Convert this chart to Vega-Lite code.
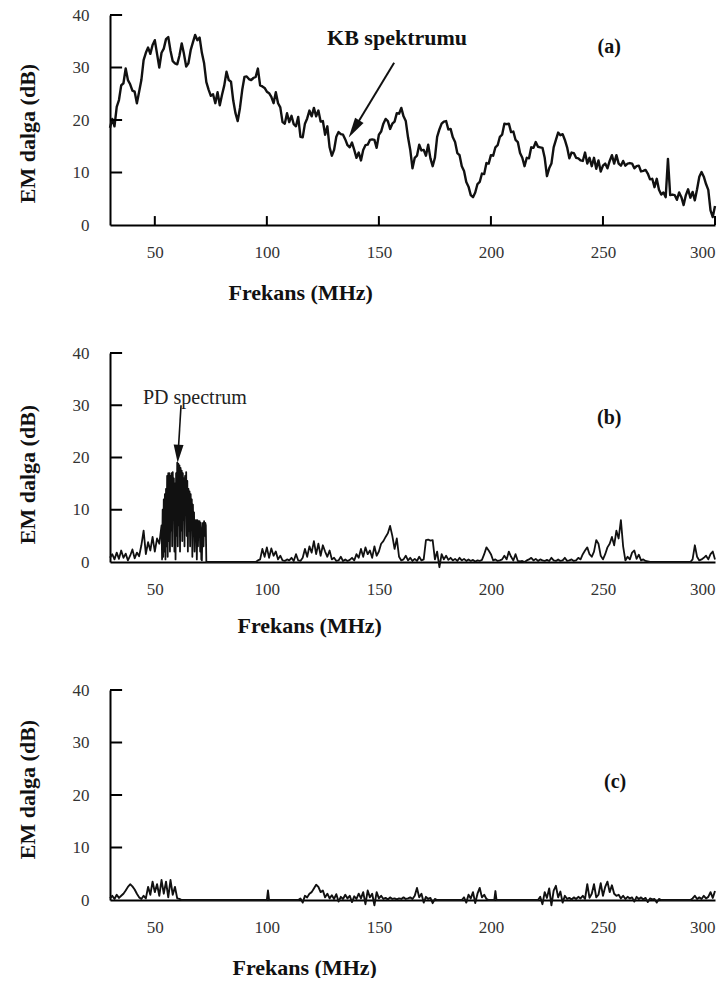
{
  "$schema": "https://vega.github.io/schema/vega-lite/v6.json",
  "background": "white",
  "padding": {"left": 16, "top": 6, "right": 0, "bottom": 0},
  "spacing": 128,
  "bounds": "flush",
  "config": {
    "view": {"stroke": null},
    "font": "Liberation Serif",
    "axis": {
      "grid": false,
      "ticks": false,
      "domainColor": "#000",
      "domainWidth": 2,
      "labelFont": "Liberation Serif",
      "labelFontSize": 17,
      "labelColor": "#333",
      "titleFont": "Liberation Serif",
      "titleFontSize": 22,
      "titleFontWeight": "bold",
      "titleColor": "#111"
    }
  },
  "datasets": {
    "yticks": [{"v": 10}, {"v": 20}, {"v": 30}, {"v": 40}],
    "xticks": [{"f": 50}, {"f": 100}, {"f": 150}, {"f": 200}, {"f": 250}, {"f": 300}],
    "a": [
      {"f":30,"v":18.5},{"f":31,"v":20.2},{"f":32,"v":18.8},{"f":33,"v":22.5},{"f":34,"v":23.8},{"f":35,"v":26.6},{"f":36,"v":27},{"f":37,"v":29.8},{"f":38,"v":27.6},{"f":39,"v":26.8},
      {"f":40,"v":25.6},{"f":41,"v":25.4},{"f":42,"v":23.2},{"f":43,"v":25.4},{"f":44,"v":27.6},{"f":45,"v":31.4},{"f":46,"v":32.8},{"f":47,"v":33.8},{"f":48,"v":32.6},{"f":49,"v":34.3},
      {"f":50,"v":35.2},{"f":51,"v":32.6},{"f":52,"v":30},{"f":53,"v":32.8},{"f":54,"v":33.6},{"f":55,"v":35.4},{"f":56,"v":35.8},{"f":57,"v":33.2},{"f":58,"v":31.2},{"f":59,"v":30.8},
      {"f":60,"v":30.6},{"f":61,"v":32.3},{"f":62,"v":34.6},{"f":63,"v":32.6},{"f":64,"v":30.2},{"f":65,"v":30.8},{"f":66,"v":33.3},{"f":67,"v":34.8},{"f":68,"v":36.2},{"f":69,"v":35.2},
      {"f":70,"v":35.7},{"f":71,"v":32.8},{"f":72,"v":30.8},{"f":73,"v":27.2},{"f":74,"v":25.8},{"f":75,"v":24.6},{"f":76,"v":24.9},{"f":77,"v":23.2},{"f":78,"v":25.3},{"f":79,"v":22.8},
      {"f":80,"v":24.8},{"f":81,"v":26.6},{"f":82,"v":29.2},{"f":83,"v":27.6},{"f":84,"v":27.3},{"f":85,"v":23.7},{"f":86,"v":21.3},{"f":87,"v":19.8},{"f":88,"v":22.3},{"f":89,"v":25.7},
      {"f":90,"v":28.2},{"f":91,"v":28.3},{"f":92,"v":27.8},{"f":93,"v":27.6},{"f":94,"v":28},{"f":95,"v":28.2},{"f":96,"v":29.8},{"f":97,"v":26.6},{"f":98,"v":26.4},{"f":99,"v":26.1},
      {"f":100,"v":25.4},{"f":101,"v":25.1},{"f":102,"v":24.4},{"f":103,"v":23.2},{"f":104,"v":25.3},{"f":105,"v":23.2},{"f":106,"v":22.4},{"f":107,"v":19.6},{"f":108,"v":19.3},{"f":109,"v":21.3},
      {"f":110,"v":19.6},{"f":111,"v":20.8},{"f":112,"v":19.2},{"f":113,"v":18.8},{"f":114,"v":20.6},{"f":115,"v":16.8},{"f":116,"v":16.7},{"f":117,"v":19.3},{"f":118,"v":20.3},{"f":119,"v":21.8},
      {"f":120,"v":20.7},{"f":121,"v":22.3},{"f":122,"v":20.7},{"f":123,"v":21.8},{"f":124,"v":19.7},{"f":125,"v":19.8},{"f":126,"v":17.2},{"f":127,"v":18.8},{"f":128,"v":14.8},{"f":129,"v":13.2},
      {"f":130,"v":14.3},{"f":131,"v":16.8},{"f":132,"v":17.7},{"f":133,"v":17.3},{"f":134,"v":17.2},{"f":135,"v":16.3},{"f":136,"v":15.2},{"f":137,"v":14.8},{"f":138,"v":15.7},{"f":139,"v":14.3},
      {"f":140,"v":12.8},{"f":141,"v":13.8},{"f":142,"v":12.3},{"f":143,"v":14.3},{"f":144,"v":15.2},{"f":145,"v":15.3},{"f":146,"v":16.2},{"f":147,"v":16.3},{"f":148,"v":16.2},{"f":149,"v":14.7},
      {"f":150,"v":17.2},{"f":151,"v":17.8},{"f":152,"v":19.3},{"f":153,"v":20.2},{"f":154,"v":19.8},{"f":155,"v":18.3},{"f":156,"v":19.3},{"f":157,"v":19.7},{"f":158,"v":21.3},{"f":159,"v":21.2},
      {"f":160,"v":22.3},{"f":161,"v":20.7},{"f":162,"v":19.8},{"f":163,"v":16.7},{"f":164,"v":14.3},{"f":165,"v":10.8},{"f":166,"v":12.8},{"f":167,"v":13.2},{"f":168,"v":15.3},{"f":169,"v":14.2},
      {"f":170,"v":14.3},{"f":171,"v":13.2},{"f":172,"v":15.3},{"f":173,"v":12.7},{"f":174,"v":11.2},{"f":175,"v":12.8},{"f":176,"v":16.8},{"f":177,"v":18.2},{"f":178,"v":19.3},{"f":179,"v":19.7},
      {"f":180,"v":19.8},{"f":181,"v":18.2},{"f":182,"v":18.3},{"f":183,"v":16.7},{"f":184,"v":15.8},{"f":185,"v":13.7},{"f":186,"v":13.3},{"f":187,"v":11.2},{"f":188,"v":10.3},{"f":189,"v":8.2},
      {"f":190,"v":7.3},{"f":191,"v":5.7},{"f":192,"v":5.3},{"f":193,"v":6.2},{"f":194,"v":7.8},{"f":195,"v":8.2},{"f":196,"v":9.8},{"f":197,"v":9.7},{"f":198,"v":11.8},{"f":199,"v":11.7},
      {"f":200,"v":13.3},{"f":201,"v":13.2},{"f":202,"v":14.8},{"f":203,"v":15.2},{"f":204,"v":16.8},{"f":205,"v":17.2},{"f":206,"v":19.3},{"f":207,"v":19.2},{"f":208,"v":19.3},{"f":209,"v":17.7},
      {"f":210,"v":17.8},{"f":211,"v":16.2},{"f":212,"v":15.8},{"f":213,"v":13.7},{"f":214,"v":12.8},{"f":215,"v":11.2},{"f":216,"v":12.8},{"f":217,"v":12.7},{"f":218,"v":14.8},{"f":219,"v":14.7},
      {"f":220,"v":15.8},{"f":221,"v":14.9},{"f":222,"v":14.8},{"f":223,"v":14.7},{"f":224,"v":12.8},{"f":225,"v":9.3},{"f":226,"v":10.8},{"f":227,"v":11.7},{"f":228,"v":14.8},{"f":229,"v":16.2},
      {"f":230,"v":17.6},{"f":231,"v":17.1},{"f":232,"v":17.3},{"f":233,"v":16.2},{"f":234,"v":14.8},{"f":235,"v":12.7},{"f":236,"v":13.8},{"f":237,"v":13.7},{"f":238,"v":12.8},{"f":239,"v":12.7},
      {"f":240,"v":12.3},{"f":241,"v":12.2},{"f":242,"v":13.8},{"f":243,"v":11.7},{"f":244,"v":12.8},{"f":245,"v":11.2},{"f":246,"v":12.8},{"f":247,"v":10.7},{"f":248,"v":12.3},{"f":249,"v":10.2},
      {"f":250,"v":11.3},{"f":251,"v":11.7},{"f":252,"v":10.8},{"f":253,"v":12.2},{"f":254,"v":13.3},{"f":255,"v":11.7},{"f":256,"v":13.3},{"f":257,"v":11.7},{"f":258,"v":11.3},{"f":259,"v":12.2},
      {"f":260,"v":11.3},{"f":261,"v":11.7},{"f":262,"v":11.8},{"f":263,"v":11.7},{"f":264,"v":10.8},{"f":265,"v":11.2},{"f":266,"v":11.3},{"f":267,"v":10.2},{"f":268,"v":10.3},{"f":269,"v":10.5},
      {"f":270,"v":9.8},{"f":271,"v":8.7},{"f":272,"v":8.8},{"f":273,"v":7.2},{"f":274,"v":8.8},{"f":275,"v":6.7},{"f":276,"v":5.8},{"f":277,"v":6.2},{"f":278,"v":5.3},{"f":279,"v":12.6},
      {"f":280,"v":5.7},{"f":281,"v":5.8},{"f":282,"v":5.7},{"f":283,"v":4.8},{"f":284,"v":6.2},{"f":285,"v":5.3},{"f":286,"v":3.8},{"f":287,"v":5.7},{"f":288,"v":6.8},{"f":289,"v":5.2},
      {"f":290,"v":6.3},{"f":291,"v":4.7},{"f":292,"v":6.8},{"f":293,"v":9.2},{"f":294,"v":10.1},{"f":295,"v":9.2},{"f":296,"v":7.8},{"f":297,"v":6.7},{"f":298,"v":2.8},{"f":299,"v":1.5},
      {"f":300,"v":3.6}
    ],
    "b": [
      {"f":30,"v":0.8},{"f":31,"v":1.5},{"f":32,"v":0.5},{"f":33,"v":1.8},{"f":34,"v":0.6},{"f":35,"v":2.2},{"f":36,"v":0.8},{"f":37,"v":1.6},{"f":38,"v":0.3},{"f":39,"v":1.2},
      {"f":40,"v":2.4},{"f":41,"v":0.7},{"f":42,"v":1.8},{"f":43,"v":1.1},{"f":44,"v":3.2},{"f":45,"v":6},{"f":46,"v":1.5},{"f":47,"v":3.8},{"f":48,"v":2.2},{"f":49,"v":4.8},
      {"f":50,"v":2},{"f":51,"v":4.5},{"f":52,"v":3.5},{"f":53,"v":7},
      {"f":53.25,"v":0.5},{"f":53.5,"v":10},{"f":53.75,"v":1},{"f":54,"v":12},{"f":54.25,"v":2},{"f":54.5,"v":13},{"f":54.75,"v":0.5},{"f":55,"v":14},{"f":55.25,"v":3},{"f":55.5,"v":16.5},
      {"f":55.75,"v":1},{"f":56,"v":17},{"f":56.25,"v":4},{"f":56.5,"v":17},{"f":56.75,"v":2},{"f":57,"v":16.5},{"f":57.25,"v":6},{"f":57.5,"v":17},{"f":57.75,"v":3},{"f":58,"v":17.2},
      {"f":58.25,"v":8},{"f":58.5,"v":16},{"f":58.75,"v":2},{"f":59,"v":15},{"f":59.25,"v":0.5},{"f":59.5,"v":17},{"f":59.75,"v":5},{"f":60,"v":19},{"f":60.25,"v":3},{"f":60.5,"v":18.8},
      {"f":60.75,"v":7},{"f":61,"v":18.5},{"f":61.25,"v":2},{"f":61.5,"v":18},{"f":61.75,"v":6},{"f":62,"v":17.5},{"f":62.25,"v":4},{"f":62.5,"v":17},{"f":62.75,"v":8},{"f":63,"v":16},
      {"f":63.25,"v":3},{"f":63.5,"v":16.5},{"f":63.75,"v":9},{"f":64,"v":17.2},{"f":64.25,"v":5},{"f":64.5,"v":15.5},{"f":64.75,"v":2},{"f":65,"v":14},{"f":65.25,"v":6},{"f":65.5,"v":13.5},
      {"f":65.75,"v":3},{"f":66,"v":13},{"f":66.25,"v":7},{"f":66.5,"v":12},{"f":66.75,"v":1},{"f":67,"v":11},{"f":67.25,"v":5},{"f":67.5,"v":9.5},{"f":67.75,"v":2},{"f":68,"v":8},
      {"f":68.25,"v":4},{"f":68.5,"v":8},{"f":68.75,"v":0.5},{"f":69,"v":8},{"f":69.25,"v":3},{"f":69.5,"v":7.8},{"f":69.75,"v":5},{"f":70,"v":7.8},{"f":70.25,"v":2},{"f":70.5,"v":7.5},
      {"f":70.75,"v":0.5},{"f":71,"v":0.3},{"f":71.25,"v":6},{"f":71.5,"v":7.5},{"f":71.75,"v":3},{"f":72,"v":7.8},{"f":72.25,"v":5},{"f":72.5,"v":7.5},{"f":72.75,"v":7},{"f":73,"v":0},
      {"f":95,"v":0},
      {"f":96,"v":0.3},{"f":97,"v":0.5},{"f":98,"v":2.5},{"f":99,"v":1},{"f":100,"v":2.8},{"f":101,"v":0.8},{"f":102,"v":2.6},{"f":103,"v":1.2},{"f":104,"v":2},{"f":105,"v":0.5},
      {"f":106,"v":1.2},{"f":107,"v":0.3},{"f":108,"v":0.2},{"f":109,"v":0.5},{"f":110,"v":0.3},{"f":111,"v":0.8},{"f":112,"v":0.2},{"f":113,"v":1.5},{"f":114,"v":0.3},{"f":115,"v":0.2},
      {"f":116,"v":0.8},{"f":117,"v":2.5},{"f":118,"v":1},{"f":119,"v":3},{"f":120,"v":1.8},{"f":121,"v":4},{"f":122,"v":1.5},{"f":123,"v":3.5},{"f":124,"v":1.2},{"f":125,"v":3.2},
      {"f":126,"v":2},{"f":127,"v":1},{"f":128,"v":2.2},{"f":129,"v":0.5},{"f":130,"v":0.8},{"f":131,"v":0.2},{"f":132,"v":0.3},{"f":133,"v":1},{"f":134,"v":0.2},{"f":135,"v":0.5},
      {"f":136,"v":0.2},{"f":137,"v":0.4},{"f":138,"v":0.8},{"f":139,"v":0.3},{"f":140,"v":1.5},{"f":141,"v":0.8},{"f":142,"v":2.5},{"f":143,"v":1},{"f":144,"v":2.8},{"f":145,"v":1.5},
      {"f":146,"v":2.2},{"f":147,"v":0.8},{"f":148,"v":3},{"f":149,"v":1.2},{"f":150,"v":2},{"f":151,"v":3.5},{"f":152,"v":4},{"f":153,"v":4.8},{"f":154,"v":5.5},{"f":155,"v":6.9},
      {"f":156,"v":5},{"f":157,"v":2.5},{"f":158,"v":4.5},{"f":159,"v":1},{"f":160,"v":0.3},{"f":161,"v":0.5},{"f":162,"v":1.2},{"f":163,"v":0.3},{"f":164,"v":0.8},{"f":165,"v":0.2},
      {"f":166,"v":0.6},{"f":167,"v":0.2},{"f":168,"v":1},{"f":169,"v":0.3},{"f":170,"v":0.5},{"f":171,"v":4.2},{"f":172,"v":4.3},{"f":173,"v":4.1},{"f":174,"v":4.2},{"f":175,"v":0.5},
      {"f":176,"v":2},{"f":177,"v":-1},{"f":178,"v":1.5},{"f":179,"v":0.5},{"f":180,"v":1.2},{"f":181,"v":0.4},{"f":182,"v":0.8},{"f":183,"v":0.3},{"f":184,"v":0.6},{"f":185,"v":0.2},
      {"f":186,"v":0.8},{"f":187,"v":0.3},{"f":188,"v":0.6},{"f":189,"v":0.2},{"f":190,"v":0.5},{"f":191,"v":0.2},{"f":192,"v":0.4},{"f":193,"v":0.1},{"f":194,"v":0.3},{"f":195,"v":0.2},
      {"f":196,"v":0.4},{"f":197,"v":1.5},{"f":198,"v":2.8},{"f":199,"v":2.2},{"f":200,"v":1.5},{"f":201,"v":0.3},{"f":202,"v":0.5},{"f":203,"v":0.2},{"f":204,"v":0.3},{"f":205,"v":0.5},
      {"f":206,"v":1.2},{"f":207,"v":0.5},{"f":208,"v":2},{"f":209,"v":1},{"f":210,"v":0.3},{"f":211,"v":1.5},{"f":212,"v":0.2},{"f":213,"v":0.1},{"f":214,"v":0.2},{"f":215,"v":0},
      {"f":216,"v":0.3},{"f":217,"v":0.5},{"f":218,"v":0.8},{"f":219,"v":0.3},{"f":220,"v":0.6},{"f":221,"v":0.2},{"f":222,"v":0.5},{"f":223,"v":0.3},{"f":224,"v":0.2},{"f":225,"v":0.4},
      {"f":226,"v":0.2},{"f":227,"v":0.8},{"f":228,"v":0.3},{"f":229,"v":0.2},{"f":230,"v":0.5},{"f":231,"v":0.2},{"f":232,"v":0.3},{"f":233,"v":0.8},{"f":234,"v":0.2},{"f":235,"v":0.3},
      {"f":236,"v":0.5},{"f":237,"v":0.2},{"f":238,"v":0.3},{"f":239,"v":0.8},{"f":240,"v":0.5},{"f":241,"v":1.5},{"f":242,"v":2.2},{"f":243,"v":2.8},{"f":244,"v":1.5},{"f":245,"v":1},
      {"f":246,"v":2},{"f":247,"v":4.2},{"f":248,"v":3.5},{"f":249,"v":1.2},{"f":250,"v":0.5},{"f":251,"v":1.5},{"f":252,"v":2.8},{"f":253,"v":3.5},{"f":254,"v":4.8},{"f":255,"v":3.2},
      {"f":256,"v":6},{"f":257,"v":4.5},{"f":258,"v":8},{"f":259,"v":3},{"f":260,"v":0.3},{"f":261,"v":1},{"f":262,"v":0.5},{"f":263,"v":1.8},{"f":264,"v":2.2},{"f":265,"v":0.6},
      {"f":266,"v":1.4},{"f":267,"v":0.3},{"f":268,"v":0.5},{"f":269,"v":0.2},{"f":270,"v":0.1},{"f":271,"v":0},{"f":289,"v":0},{"f":290,"v":0.5},{"f":291,"v":3.2},{"f":292,"v":1},
      {"f":293,"v":0.3},{"f":294,"v":0.5},{"f":295,"v":0.8},{"f":296,"v":1.2},{"f":297,"v":0.5},{"f":298,"v":1.5},{"f":299,"v":2},{"f":300,"v":0.5}
    ],
    "c": [
      {"f":30,"v":0.3},{"f":31,"v":0.8},{"f":32,"v":0.2},{"f":33,"v":1},{"f":34,"v":0.4},{"f":35,"v":0.8},{"f":36,"v":1.2},{"f":37,"v":1.8},{"f":38,"v":2.5},{"f":39,"v":3},
      {"f":40,"v":2.6},{"f":41,"v":2},{"f":42,"v":1.2},{"f":43,"v":0.5},{"f":44,"v":0.2},{"f":45,"v":0.8},{"f":46,"v":0.3},{"f":47,"v":2.5},{"f":48,"v":1},{"f":49,"v":3.5},
      {"f":50,"v":1.5},{"f":51,"v":3},{"f":52,"v":0.8},{"f":53,"v":3.8},{"f":54,"v":1.2},{"f":55,"v":3.5},{"f":56,"v":0.5},{"f":57,"v":3.8},{"f":58,"v":1},{"f":59,"v":2.5},
      {"f":60,"v":0.3},{"f":61,"v":0.2},{"f":62,"v":0},{"f":100,"v":0},{"f":100.5,"v":1.8},{"f":101,"v":0},{"f":114,"v":0},
      {"f":115,"v":0.3},{"f":116,"v":-0.5},{"f":117,"v":0.8},{"f":118,"v":0.5},{"f":119,"v":1.2},{"f":120,"v":1.5},{"f":121,"v":2.2},{"f":122,"v":2.9},{"f":123,"v":2.5},{"f":124,"v":1.5},
      {"f":125,"v":1.8},{"f":126,"v":0.5},{"f":127,"v":1.2},{"f":128,"v":0.3},{"f":129,"v":0.9},{"f":130,"v":0.2},{"f":131,"v":1.1},{"f":132,"v":-0.3},{"f":133,"v":0.6},{"f":134,"v":0.2},
      {"f":135,"v":1},{"f":136,"v":0.3},{"f":137,"v":0.8},{"f":138,"v":-0.4},{"f":139,"v":0.7},{"f":140,"v":0.2},{"f":141,"v":1.2},{"f":142,"v":0.3},{"f":143,"v":1.5},{"f":144,"v":-0.8},
      {"f":145,"v":1.8},{"f":146,"v":0.5},{"f":147,"v":1.2},{"f":148,"v":-1},{"f":149,"v":1.5},{"f":150,"v":0.3},{"f":151,"v":0.8},{"f":152,"v":0.2},{"f":153,"v":0.4},{"f":154,"v":0.1},
      {"f":155,"v":0.5},{"f":156,"v":0.2},{"f":157,"v":0.3},{"f":158,"v":0.1},{"f":159,"v":0.3},{"f":160,"v":0.2},{"f":161,"v":0.5},{"f":162,"v":0.2},{"f":163,"v":0.3},{"f":164,"v":0.5},
      {"f":165,"v":0.2},{"f":166,"v":0.8},{"f":167,"v":2.3},{"f":168,"v":0.5},{"f":169,"v":1.2},{"f":170,"v":-0.5},{"f":171,"v":0.6},{"f":172,"v":0.2},{"f":173,"v":0.4},{"f":174,"v":-0.6},
      {"f":175,"v":0.2},{"f":176,"v":0},{"f":187,"v":0},{"f":188,"v":0.5},{"f":189,"v":-0.5},{"f":190,"v":1},{"f":191,"v":0.3},{"f":192,"v":1.5},{"f":193,"v":-0.6},{"f":194,"v":1.2},
      {"f":195,"v":2.3},{"f":196,"v":0.5},{"f":197,"v":1},{"f":198,"v":0.2},{"f":199,"v":0},{"f":201.5,"v":0},{"f":202,"v":1.7},{"f":202.5,"v":0},{"f":221,"v":0},
      {"f":222,"v":0.6},{"f":223,"v":-0.8},{"f":224,"v":1.5},{"f":225,"v":0.4},{"f":226,"v":2.2},{"f":227,"v":-1},{"f":228,"v":1.8},{"f":229,"v":2.7},{"f":230,"v":0.5},{"f":231,"v":1.6},
      {"f":232,"v":-0.5},{"f":233,"v":0.8},{"f":234,"v":0.2},{"f":235,"v":0.4},{"f":236,"v":0.1},{"f":237,"v":0.5},{"f":238,"v":0.2},{"f":239,"v":0.6},{"f":240,"v":0.3},{"f":241,"v":0.8},
      {"f":242,"v":0.2},{"f":243,"v":3},{"f":244,"v":0.4},{"f":245,"v":1.2},{"f":246,"v":3},{"f":247,"v":0.5},{"f":248,"v":1},{"f":249,"v":3.2},{"f":250,"v":0.8},{"f":251,"v":2.5},
      {"f":252,"v":3.5},{"f":253,"v":1.5},{"f":254,"v":2.8},{"f":255,"v":1.2},{"f":256,"v":0.8},{"f":257,"v":1},{"f":258,"v":0.3},{"f":259,"v":0.8},{"f":260,"v":0.2},{"f":261,"v":0.6},
      {"f":262,"v":0.3},{"f":263,"v":0.5},{"f":264,"v":-0.3},{"f":265,"v":0.6},{"f":266,"v":0.2},{"f":267,"v":0.5},{"f":268,"v":0.1},{"f":269,"v":0.4},{"f":270,"v":-0.4},{"f":271,"v":0.3},
      {"f":272,"v":0.1},{"f":273,"v":0.2},{"f":274,"v":-0.5},{"f":275,"v":0.2},{"f":276,"v":0},{"f":289,"v":0},{"f":290,"v":0.3},{"f":291,"v":0.8},{"f":292,"v":0.2},{"f":293,"v":0.5},
      {"f":294,"v":0.2},{"f":295,"v":0.8},{"f":296,"v":0.3},{"f":297,"v":0.6},{"f":298,"v":1.5},{"f":299,"v":0.4},{"f":300,"v":1.7}
    ]
  },
  "vconcat": [
    {
      "width": 605,
      "height": 210,
      "layer": [
        {
          "data": {"name": "a"},
          "mark": {"type": "line", "color": "#111", "strokeWidth": 2.4, "strokeJoin": "round"},
          "encoding": {
            "x": {"field": "f", "type": "quantitative",
              "scale": {"domain": [30, 300], "nice": false, "zero": false},
              "axis": {"values": [50, 100, 150, 200, 250, 300], "labelPadding": 19, "labelFlush": true,
                "title": "Frekans (MHz)", "titleX": 118, "titleY": 74, "titleAlign": "left", "titleBaseline": "alphabetic"}},
            "y": {"field": "v", "type": "quantitative",
              "scale": {"domain": [0, 40], "nice": false},
              "axis": {"values": [0, 10, 20, 30, 40], "labelPadding": 21,
                "title": "EM dalga (dB)", "titleX": -83, "titleY": 118, "titleAngle": 270, "titleAlign": "center", "titleBaseline": "middle"}}
          }
        },
        {
          "data": {"name": "yticks"},
          "mark": {"type": "rule", "color": "#000", "strokeWidth": 2},
          "encoding": {
            "x": {"datum": 30, "type": "quantitative"},
            "x2": {"datum": 35.4},
            "y": {"field": "v", "type": "quantitative"}
          }
        },
        {
          "data": {"name": "xticks"},
          "mark": {"type": "rule", "color": "#000", "strokeWidth": 2},
          "encoding": {
            "x": {"field": "f", "type": "quantitative"},
            "y": {"datum": 0, "type": "quantitative"},
            "y2": {"datum": 1.7}
          }
        },
        {
          "data": {"values": [{"f": 156.8, "v": 30.9, "f2": 138.9, "v2": 18.3}]},
          "mark": {"type": "rule", "color": "#111", "strokeWidth": 2},
          "encoding": {
            "x": {"field": "f", "type": "quantitative"},
            "y": {"field": "v", "type": "quantitative"},
            "x2": {"field": "f2"},
            "y2": {"field": "v2"}
          }
        },
        {
          "data": {"values": [{"f": 138.9, "v": 18.3}]},
          "mark": {"type": "point", "shape": "M0,-1L0.5,1L-0.5,1Z", "size": 400, "angle": 212, "filled": true, "color": "#111", "opacity": 1},
          "encoding": {
            "x": {"field": "f", "type": "quantitative"},
            "y": {"field": "v", "type": "quantitative"}
          }
        },
        {
          "data": {"values": [{"f": 158.1, "v": 35.6, "t": "KB spektrumu"}]},
          "mark": {"type": "text", "font": "Liberation Serif", "fontWeight": "bold", "fontSize": 22, "color": "#111"},
          "encoding": {
            "x": {"field": "f", "type": "quantitative"},
            "y": {"field": "v", "type": "quantitative"},
            "text": {"field": "t"}
          }
        },
        {
          "data": {"values": [{"f": 252.8, "v": 33.9, "t": "(a)"}]},
          "mark": {"type": "text", "font": "Liberation Serif", "fontWeight": "bold", "fontSize": 20, "color": "#111"},
          "encoding": {
            "x": {"field": "f", "type": "quantitative"},
            "y": {"field": "v", "type": "quantitative"},
            "text": {"field": "t"}
          }
        }
      ]
    },
    {
      "width": 605,
      "height": 209,
      "layer": [
        {
          "data": {"name": "b"},
          "mark": {"type": "line", "color": "#111", "strokeWidth": 1.8, "strokeJoin": "round"},
          "encoding": {
            "x": {"field": "f", "type": "quantitative",
              "scale": {"domain": [30, 300], "nice": false, "zero": false},
              "axis": {"values": [50, 100, 150, 200, 250, 300], "labelPadding": 19, "labelFlush": true,
                "title": "Frekans (MHz)", "titleX": 127, "titleY": 70, "titleAlign": "left", "titleBaseline": "alphabetic"}},
            "y": {"field": "v", "type": "quantitative",
              "scale": {"domain": [0, 40], "nice": false},
              "axis": {"values": [0, 10, 20, 30, 40], "labelPadding": 21,
                "title": "EM dalga (dB)", "titleX": -83, "titleY": 121, "titleAngle": 270, "titleAlign": "center", "titleBaseline": "middle"}}
          }
        },
        {
          "data": {"name": "yticks"},
          "mark": {"type": "rule", "color": "#000", "strokeWidth": 2},
          "encoding": {
            "x": {"datum": 30, "type": "quantitative"},
            "x2": {"datum": 35.4},
            "y": {"field": "v", "type": "quantitative"}
          }
        },
        {
          "data": {"values": [{"f": 61.7, "v": 30, "f2": 60.4, "v2": 20.7}]},
          "mark": {"type": "rule", "color": "#111", "strokeWidth": 1.6},
          "encoding": {
            "x": {"field": "f", "type": "quantitative"},
            "y": {"field": "v", "type": "quantitative"},
            "x2": {"field": "f2"},
            "y2": {"field": "v2"}
          }
        },
        {
          "data": {"values": [{"f": 60.4, "v": 20.7}]},
          "mark": {"type": "point", "shape": "M0,-1L0.55,1L-0.55,1Z", "size": 324, "angle": 183, "filled": true, "color": "#111", "opacity": 1},
          "encoding": {
            "x": {"field": "f", "type": "quantitative"},
            "y": {"field": "v", "type": "quantitative"}
          }
        },
        {
          "data": {"values": [{"f": 67.9, "v": 31.4, "t": "PD spectrum"}]},
          "mark": {"type": "text", "font": "Liberation Serif", "fontSize": 20, "color": "#222"},
          "encoding": {
            "x": {"field": "f", "type": "quantitative"},
            "y": {"field": "v", "type": "quantitative"},
            "text": {"field": "t"}
          }
        },
        {
          "data": {"values": [{"f": 252.8, "v": 27.6, "t": "(b)"}]},
          "mark": {"type": "text", "font": "Liberation Serif", "fontWeight": "bold", "fontSize": 20, "color": "#111"},
          "encoding": {
            "x": {"field": "f", "type": "quantitative"},
            "y": {"field": "v", "type": "quantitative"},
            "text": {"field": "t"}
          }
        }
      ]
    },
    {
      "width": 605,
      "height": 210,
      "layer": [
        {
          "data": {"name": "c"},
          "mark": {"type": "line", "color": "#111", "strokeWidth": 1.9, "strokeJoin": "round"},
          "encoding": {
            "x": {"field": "f", "type": "quantitative",
              "scale": {"domain": [30, 300], "nice": false, "zero": false},
              "axis": {"values": [50, 100, 150, 200, 250, 300], "labelPadding": 19, "labelFlush": true,
                "title": "Frekans (MHz)", "titleX": 122, "titleY": 74, "titleAlign": "left", "titleBaseline": "alphabetic"}},
            "y": {"field": "v", "type": "quantitative",
              "scale": {"domain": [0, 40], "nice": false},
              "axis": {"values": [0, 10, 20, 30, 40], "labelPadding": 21,
                "title": "EM dalga (dB)", "titleX": -83, "titleY": 99, "titleAngle": 270, "titleAlign": "center", "titleBaseline": "middle"}}
          }
        },
        {
          "data": {"name": "yticks"},
          "mark": {"type": "rule", "color": "#000", "strokeWidth": 2},
          "encoding": {
            "x": {"datum": 30, "type": "quantitative"},
            "x2": {"datum": 35.4},
            "y": {"field": "v", "type": "quantitative"}
          }
        },
        {
          "data": {"values": [{"f": 255.4, "v": 22.5, "t": "(c)"}]},
          "mark": {"type": "text", "font": "Liberation Serif", "fontWeight": "bold", "fontSize": 20, "color": "#111"},
          "encoding": {
            "x": {"field": "f", "type": "quantitative"},
            "y": {"field": "v", "type": "quantitative"},
            "text": {"field": "t"}
          }
        }
      ]
    }
  ]
}
